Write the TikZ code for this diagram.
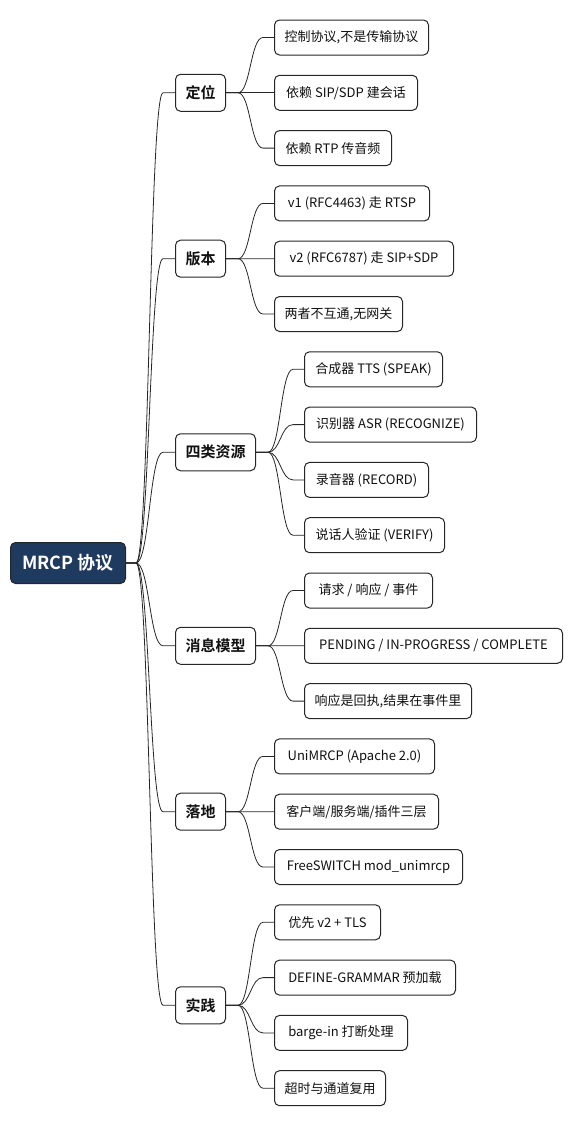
\documentclass[tikz,border=0pt]{standalone}
\usepackage{fontspec}
\setmainfont{Noto Sans CJK SC}[BoldFont={Noto Sans CJK SC Bold}]
\usepackage{tikz}
\usetikzlibrary{calc}
\definecolor{rootbg}{HTML}{1F3A5F}
\definecolor{edge}{HTML}{262626}
\definecolor{ink}{HTML}{111111}
\tikzset{
  box/.style={draw=edge, fill=white, text=ink, rounded corners=5bp, line width=1bp, anchor=west, inner xsep=10bp},
  rootnode/.style={box, fill=rootbg, text=white, minimum width=115bp, minimum height=41bp,
    font=\fontsize{18bp}{20bp}\selectfont\bfseries},
  topic/.style={box, minimum height=37bp, font=\fontsize{15bp}{17bp}\selectfont\bfseries},
  leaf/.style={box, minimum height=35bp, font=\fontsize{13bp}{15bp}\selectfont},
  link/.style={draw=edge, line width=0.8bp},
}

\begin{document}
\begin{tikzpicture}[x=1bp, y=-1bp]
\useasboundingbox (0,0) rectangle (582,1126);
% root and main topics
\node[rootnode] (root) at (10,563) {MRCP 协议};
\node[topic] (dingwei) at (175,92.8) {定位};
\node[topic] (banben) at (175,258.7) {版本};
\node[topic] (ziyuan) at (175,452.25) {四类资源};
\node[topic] (xiaoxi) at (175,645.8) {消息模型};
\node[topic] (luodi) at (175,811.7) {落地};
\node[topic] (shijian) at (175,1005.25) {实践};
% leaves, evenly spaced
\foreach \x/\w/\t [count=\k from 0] in {
  274/154/{控制协议,不是传输协议}, 274/143/{依赖 SIP/SDP 建会话}, 274/117/{依赖 RTP 传音频},
  274/155/{v1 (RFC4463) 走 RTSP}, 274/179/{v2 (RFC6787) 走 SIP+SDP}, 274/128/{两者不互通,无网关},
  304/138/{合成器 TTS (SPEAK)}, 304/172/{识别器 ASR (RECOGNIZE)}, 304/124/{录音器 (RECORD)},
  304/140/{说话人验证 (VERIFY)},
  304/128/{请求 / 响应 / 事件}, 304/258/{PENDING / IN-PROGRESS / COMPLETE}, 304/167/{响应是回执,结果在事件里},
  274/160/{UniMRCP (Apache 2.0)}, 274/164/{客户端/服务端/插件三层}, 274/188/{FreeSWITCH mod\_unimrcp},
  274/106/{优先 v2 + TLS}, 274/181/{DEFINE-GRAMMAR 预加载}, 274/133/{barge-in 打断处理}, 274/111/{超时与通道复用}}
  \node[leaf, minimum width=\w bp] (l\k) at (\x,37.5+55.3*\k) {\t};
% connectors: short stub, s-curve, short stub
\foreach \m/\a/\b in {dingwei/0/2, banben/3/5, ziyuan/6/9, xiaoxi/10/12, luodi/13/15, shijian/16/19}{
  \draw[link] let \p1=([xshift=10bp]root.east), \p2=([xshift=-12bp]\m.west) in
    (root.east) -- (\p1) .. controls ({(\x1+\x2)/2},\y1) and ({(\x1+\x2)/2},\y2) .. (\p2) -- (\m.west);
  \foreach \k in {\a,...,\b}
    \draw[link] let \p1=([xshift=12bp]\m.east), \p2=([xshift=-11bp]l\k.west) in
      (\m.east) -- (\p1) .. controls ({(\x1+\x2)/2},\y1) and ({(\x1+\x2)/2},\y2) .. (\p2) -- (l\k.west);
}
\end{tikzpicture}
\end{document}
